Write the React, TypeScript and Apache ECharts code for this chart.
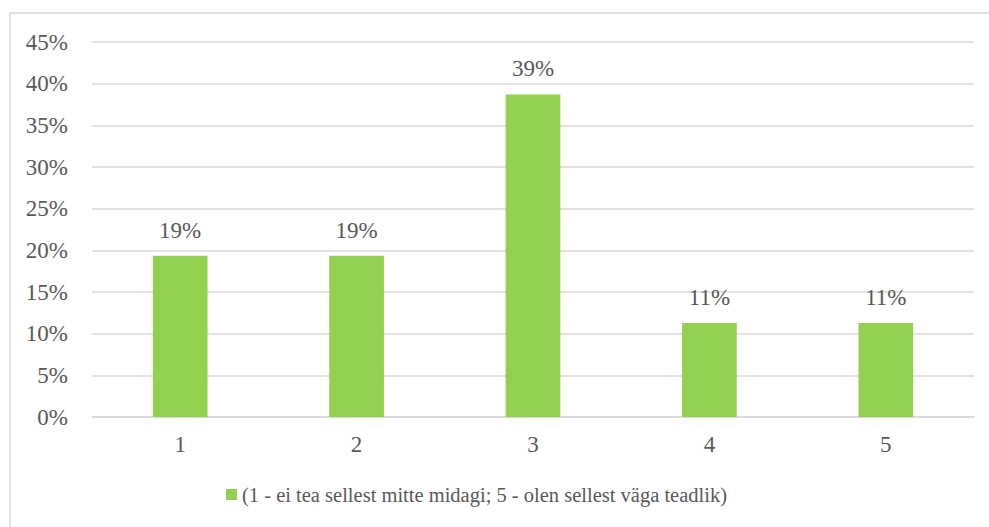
import React, { useEffect, useRef } from "react";
import * as echarts from "echarts";

const categories = ["1", "2", "3", "4", "5"];
const shares = [0.1935, 0.1935, 0.3871, 0.1129, 0.1129];
const seriesName = "(1 - ei tea sellest mitte midagi; 5 - olen sellest väga teadlik)";

const FONT = "Liberation Serif";
const TEXT = "#595959";
const GRID = "#d9d9d9";

export default function App() {
  const ref = useRef<HTMLDivElement>(null);

  useEffect(() => {
    if (!ref.current) return;
    const chart = echarts.init(ref.current, undefined, { renderer: "svg" });
    chart.setOption({
      animation: false,
      backgroundColor: "#ffffff",
      textStyle: { fontFamily: FONT },
      graphic: [
        {
          type: "rect",
          shape: { x: 10, y: 13, width: 990, height: 530 },
          style: { fill: "none", stroke: GRID, lineWidth: 1.5 },
          silent: true,
        },
      ],
      grid: { left: 92, right: 15, top: 42, bottom: 110 },
      legend: {
        left: 221,
        bottom: 17,
        itemWidth: 11,
        itemHeight: 11,
        icon: "rect",
        textStyle: { fontFamily: FONT, fontSize: 20.5, color: TEXT },
        data: [seriesName],
      },
      xAxis: {
        type: "category",
        data: categories,
        axisLine: { lineStyle: { color: GRID, width: 1.5 } },
        axisTick: { show: false },
        axisLabel: { fontFamily: FONT, fontSize: 23, color: TEXT, margin: 16 },
      },
      yAxis: {
        type: "value",
        min: 0,
        max: 0.45,
        interval: 0.05,
        axisLine: { show: false },
        axisTick: { show: false },
        splitLine: { lineStyle: { color: GRID, width: 1.5 } },
        axisLabel: {
          fontFamily: FONT,
          fontSize: 23,
          color: TEXT,
          margin: 24,
          formatter: (v: number) => `${Math.round(v * 100)}%`,
        },
      },
      series: [
        {
          name: seriesName,
          type: "bar",
          data: shares,
          barWidth: "31%",
          itemStyle: { color: "#92d050" },
          label: {
            show: true,
            position: "top",
            distance: 14,
            fontFamily: FONT,
            fontSize: 23,
            color: TEXT,
            formatter: (p: any) => `${Math.round(p.value * 100)}%`,
          },
        },
      ],
    });
    return () => chart.dispose();
  }, []);

  return (
    <div
      ref={ref}
      style={{ position: "fixed", left: 0, top: 0, width: 989, height: 527 }}
    />
  );
}
